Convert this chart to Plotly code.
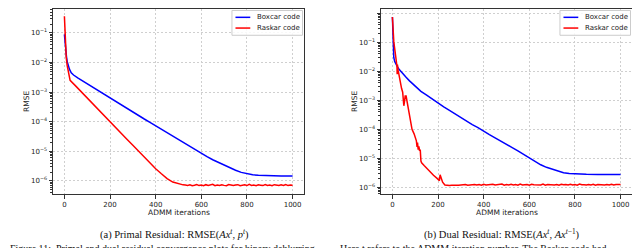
import plotly.graph_objects as go

# ---------------- data ----------------
# (a) primal residual
primal_box_t = [0, 2, 4, 5, 7, 9, 12, 16, 22, 30, 40, 60, 80, 100, 125, 150, 175, 200,
                225, 250, 275, 300, 325, 350, 375, 400, 425, 450, 475, 500, 525, 550, 575, 600,
                625, 650, 675, 700, 725, 750, 775, 800, 825, 850, 875, 900, 950, 1000]
primal_box_v = [9e-2, 5e-2, 3e-2, 4e-2, 2e-2, 1.6e-2, 1.1e-2, 8e-3, 6e-3, 4.5e-3,
                3.8e-3, 3.0e-3, 2.4e-3, 1.9e-3, 1.48e-3, 1.15e-3, 8.8e-4, 6.4e-4,
                4.9e-4, 3.7e-4, 2.8e-4, 2.1e-4, 1.62e-4, 1.24e-4, 9.6e-5, 7.3e-5,
                5.6e-5, 4.3e-5, 3.3e-5, 2.5e-5, 1.9e-5, 1.45e-5, 1.1e-5, 8.5e-6,
                6.6e-6, 5.2e-6, 4.2e-6, 3.5e-6, 2.8e-6, 2.3e-6, 1.95e-6, 1.75e-6,
                1.62e-6, 1.55e-6, 1.52e-6, 1.5e-6, 1.48e-6, 1.47e-6]

primal_ras_t = [0, 1, 3, 5, 8, 12, 16, 20, 25, 50, 75, 100, 125, 150, 175, 200, 225, 250,
                275, 300, 325, 350, 375, 400, 425, 450, 475, 500, 520,
                530, 540, 550, 560, 570, 580, 590, 600, 610, 620, 630, 640, 650, 660, 670,
                680, 690, 700, 710, 720, 730, 740, 750, 760, 770, 780, 790, 800, 810, 820,
                830, 840, 850, 860, 870, 880, 890, 900, 910, 920, 930, 940, 950, 960, 970,
                980, 990, 1000]
primal_ras_v = [3.7e-1, 2e-1, 6e-2, 3e-2, 1.5e-2, 8e-3, 5e-3, 3.5e-3, 2.5e-3, 1.6e-3,
                1.0e-3, 6.3e-4, 4.0e-4, 2.5e-4, 1.6e-4, 1.0e-4, 6.3e-5, 4.0e-5, 2.5e-5,
                1.6e-5, 1.0e-5, 6.3e-6, 4.0e-6, 2.6e-6, 1.75e-6, 1.2e-6, 9.2e-7, 7.9e-7, 7.4e-7,
                7.3e-7, 7.1e-7, 7.4e-7, 6.9e-7, 7.2e-7, 7.6e-7, 7.0e-7, 7.3e-7, 6.9e-7, 7.5e-7,
                7.1e-7, 7.2e-7, 7.7e-7, 6.9e-7, 7.3e-7, 7.0e-7, 7.4e-7, 7.1e-7, 6.9e-7, 7.6e-7,
                7.2e-7, 7.0e-7, 7.3e-7, 7.5e-7, 6.9e-7, 7.2e-7, 7.4e-7, 7.0e-7, 7.7e-7, 7.1e-7,
                7.3e-7, 6.9e-7, 7.4e-7, 7.2e-7, 7.0e-7, 7.6e-7, 7.1e-7, 7.3e-7, 6.9e-7, 7.5e-7,
                7.2e-7, 7.0e-7, 7.4e-7, 7.1e-7, 7.6e-7, 7.0e-7, 7.3e-7, 7.2e-7]

# (b) dual residual
dual_box_t = [0, 1, 2, 3, 6, 10, 15, 21, 30, 40, 50, 60, 75, 90, 109, 125, 150, 167, 197,
              225, 250, 275, 300, 328, 350, 375, 400, 425, 450, 475, 505, 525, 550, 575, 600,
              625, 650, 675, 700, 725, 750, 775, 800, 850, 900, 1000]
dual_box_v = [7.5e-1, 3e-1, 1e-1, 5e-2, 3e-2, 2.2e-2, 1.7e-2, 1.48e-2, 1.15e-2, 9.2e-3,
              7.5e-3, 6.2e-3, 4.7e-3, 3.6e-3, 2.6e-3, 2.05e-3, 1.5e-3, 1.2e-3, 8.2e-4,
              5.9e-4, 4.5e-4, 3.4e-4, 2.6e-4, 1.8e-4, 1.45e-4, 1.15e-4, 8.5e-5, 6.6e-5,
              5.1e-5, 4.0e-5, 2.9e-5, 2.35e-5, 1.8e-5, 1.35e-5, 1.0e-5, 7.6e-6, 6.0e-6,
              4.9e-6, 4.2e-6, 3.6e-6, 3.2e-6, 3.0e-6, 2.9e-6, 2.8e-6, 2.75e-6, 2.75e-6]

dual_ras_t = [0, 1, 2, 4, 6, 9, 12, 15, 18, 20, 21, 22, 25, 30, 35, 40, 45, 48, 50, 53, 56,
              60, 64, 70, 78, 86, 95, 100, 105, 108, 110, 113, 116, 119, 122, 125, 128, 140,
              160, 180, 197, 203, 206, 209, 214, 220, 230, 240,
              250, 260, 270, 280, 290, 300, 310, 320, 330, 340, 350, 360, 370, 380, 390,
              400, 410, 420, 430, 440, 450, 460, 470, 480, 490, 500, 510, 520, 530, 540,
              550, 560, 570, 580, 590, 600, 610, 620, 630, 640, 650, 660, 670, 680, 690,
              700, 710, 720, 730, 740, 750, 760, 770, 780, 790, 800, 810, 820, 830, 840,
              850, 860, 870, 880, 890, 900, 910, 920, 930, 940, 950, 960, 970, 980, 990, 1000]
dual_ras_v = [7.5e-1, 4e-1, 2.5e-1, 1.5e-1, 1.1e-1, 7e-2, 4.5e-2, 3e-2, 2.2e-2, 1.5e-2,
              8e-3, 1.7e-2, 1.1e-2, 6e-3, 3.5e-3, 2.6e-3, 1.9e-3, 1.2e-3, 6.5e-4, 9e-4,
              1.4e-3, 1.4e-3, 9e-4, 4.5e-4, 2.2e-4, 1.0e-4, 7e-5, 5e-5, 4e-5, 2.5e-5,
              3.5e-5, 2.0e-5, 2.6e-5, 1.8e-5, 2.0e-5, 8e-6, 7e-6, 5.5e-6, 3.7e-6, 2.6e-6,
              2.0e-6, 1.8e-6, 1.7e-6, 2.7e-6, 2.0e-6, 1.5e-6, 1.2e-6, 1.15e-6,
              1.16e-6, 1.18e-6, 1.15e-6, 1.19e-6, 1.17e-6, 1.22e-6, 1.2e-6, 1.25e-6, 1.19e-6,
              1.23e-6, 1.21e-6, 1.26e-6, 1.2e-6, 1.24e-6, 1.18e-6, 1.27e-6, 1.21e-6, 1.23e-6,
              1.19e-6, 1.28e-6, 1.2e-6, 1.24e-6, 1.22e-6, 1.3e-6, 1.19e-6, 1.25e-6, 1.21e-6,
              1.27e-6, 1.2e-6, 1.24e-6, 1.18e-6, 1.29e-6, 1.21e-6, 1.23e-6, 1.26e-6, 1.19e-6,
              1.28e-6, 1.22e-6, 1.2e-6, 1.25e-6, 1.21e-6, 1.3e-6, 1.19e-6, 1.24e-6, 1.22e-6,
              1.27e-6, 1.2e-6, 1.25e-6, 1.19e-6, 1.28e-6, 1.22e-6, 1.24e-6, 1.2e-6, 1.27e-6,
              1.21e-6, 1.25e-6, 1.19e-6, 1.29e-6, 1.22e-6, 1.23e-6, 1.2e-6, 1.26e-6, 1.21e-6,
              1.28e-6, 1.19e-6, 1.24e-6, 1.22e-6, 1.27e-6, 1.2e-6, 1.25e-6, 1.21e-6, 1.28e-6,
              1.2e-6, 1.24e-6, 1.22e-6, 1.26e-6]

series_names = ["Boxcar code", "Raskar code"]
series_colors = ["#0000ff", "#ff0000"]

x_ticks = [0, 200, 400, 600, 800, 1000]
y_exps = [-6, -5, -4, -3, -2, -1, 0]

captions = ["(a) Primal Residual: RMSE(<i>Ax</i><sup><i>t</i></sup>, <i>p</i><sup><i>t</i></sup>)",
            "(b) Dual Residual: RMSE(<i>Ax</i><sup><i>t</i></sup>, <i>Ax</i><sup><i>t</i>−1</sup>)"]
fig_caption_parts = ["Figure 11:  Primal and dual residual convergence plots for binary deblurring.",
                     "Here t refers to the ADMM iteration number. The Raskar code had"]

# ---------------- figure ----------------
W, H = 640, 248
fig = go.Figure()

panels = [
    dict(xa="x", ya="y", data=[(primal_box_t, primal_box_v), (primal_ras_t, primal_ras_v)]),
    dict(xa="x2", ya="y2", data=[(dual_box_t, dual_box_v), (dual_ras_t, dual_ras_v)]),
]
for p in panels:
    for (t, v), name, col in zip(p["data"], series_names, series_colors):
        fig.add_trace(go.Scatter(x=t, y=v, mode="lines", name=name, showlegend=False,
                                 line=dict(color=col, width=1.5), xaxis=p["xa"], yaxis=p["ya"]))

tick_font = dict(family="DejaVu Sans", size=7, color="#222")
minor_vals = [m * 10.0 ** e for e in range(-8, 1) for m in range(2, 10)]
ytext = ["10<sup>−%d</sup>" % (-e) if e < 0 else "10<sup>0</sup>" for e in y_exps]

common_x = dict(range=[-50, 1050], tickvals=x_ticks, ticks="outside", ticklen=3.5,
                tickcolor="#333", showline=True, linecolor="#333", linewidth=1, mirror=True,
                showgrid=True, gridcolor="#cfcfcf", griddash="2px,2px", gridwidth=0.8,
                zeroline=False, tickfont=tick_font)
common_y = dict(type="log", tickvals=[10.0 ** e for e in y_exps], ticktext=ytext,
                ticks="outside", ticklen=3.5, tickcolor="#333", showline=True,
                linecolor="#333", linewidth=1, mirror=True, showgrid=True,
                gridcolor="#cfcfcf", griddash="2px,2px", gridwidth=0.8, zeroline=False,
                tickfont=tick_font,
                minor=dict(tickmode="array", tickvals=minor_vals, ticks="outside",
                           ticklen=2, tickcolor="#333", showgrid=False))

ydom = [1 - 186 / H, 1 - 1 / H]
fig.update_layout(
    width=W, height=H, margin=dict(l=0, r=0, t=0, b=0),
    paper_bgcolor="white", plot_bgcolor="white", showlegend=False,
    xaxis=dict(domain=[45 / W, 296 / W], anchor="y", **common_x),
    yaxis=dict(domain=ydom, anchor="x", range=[-6.44, -0.19], **common_y),
    xaxis2=dict(domain=[373 / W, 624 / W], anchor="y2", **common_x),
    yaxis2=dict(domain=ydom, anchor="x2", range=[-6.23, 0.15], **common_y),
)

annotations = []
shapes = []
lab_font = dict(family="DejaVu Sans", size=7.5, color="#222")
for i, (xa, x0px, x1px) in enumerate([("x", 45, 296), ("x2", 373, 624)]):
    cx = (x0px + x1px) / 2 / W
    annotations.append(dict(text="ADMM iterations", x=cx, y=1 - 204 / H, xref="paper",
                            yref="paper", showarrow=False, font=lab_font,
                            xanchor="center", yanchor="middle"))
    annotations.append(dict(text="RMSE", x=(x0px - 27) / W, y=1 - 94 / H, xref="paper",
                            yref="paper", showarrow=False, font=lab_font, textangle=-90,
                            xanchor="center", yanchor="middle"))
    annotations.append(dict(text=captions[i], x=[166 / W, 494 / W][i], y=1 - 226 / H,
                            xref="paper", yref="paper", showarrow=False,
                            font=dict(family="Liberation Serif", size=10.5, color="#111"),
                            xanchor="center", yanchor="middle"))
    # legend box
    xd = xa + " domain"
    yd = ("y" if xa == "x" else "y2") + " domain"
    shapes.append(dict(type="rect", xref=xd, yref=yd, x0=0.713, x1=0.994, y0=0.858, y1=0.992,
                       line=dict(color="#cccccc", width=1), fillcolor="rgba(255,255,255,0.85)"))
    for j, (name, col) in enumerate(zip(series_names, series_colors)):
        yy = [0.955, 0.897][j]
        shapes.append(dict(type="line", xref=xd, yref=yd, x0=0.727, x1=0.786, y0=yy, y1=yy,
                           line=dict(color=col, width=1.5)))
        annotations.append(dict(text=name, xref=xd, yref=yd, x=0.806, y=yy, showarrow=False,
                                xanchor="left", yanchor="middle",
                                font=dict(family="DejaVu Sans", size=7, color="#222")))

# figure caption along the bottom edge (cut by the edge as in the reference)
for k, (part, xpx) in enumerate(zip(fig_caption_parts, [0, 330])):
    annotations.append(dict(text=part, x=xpx / W, y=0, xref="paper", yref="paper",
                            showarrow=False, xanchor="left", yanchor="bottom",
                            font=dict(family="Liberation Serif", size=10, color="#111")))

fig.update_layout(annotations=annotations, shapes=shapes)
fig.write_html("out.html")
